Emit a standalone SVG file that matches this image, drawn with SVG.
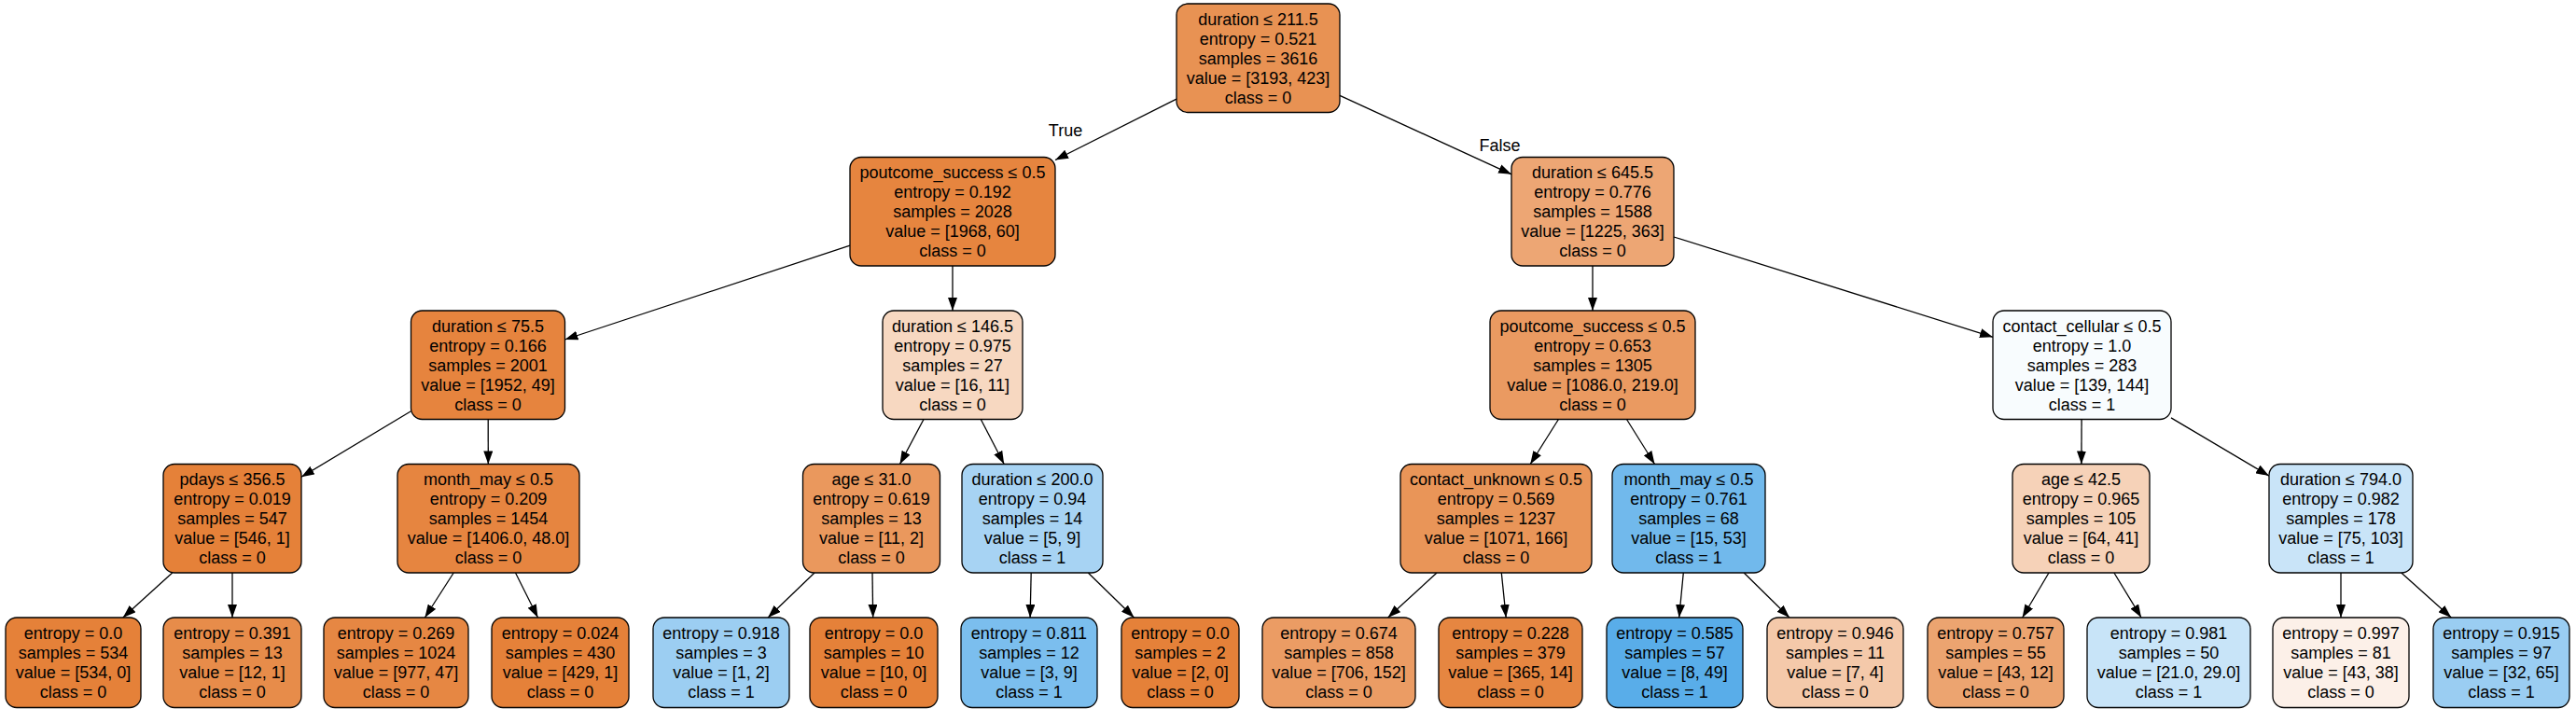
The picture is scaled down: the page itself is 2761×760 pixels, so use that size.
<svg xmlns="http://www.w3.org/2000/svg" width="2761" height="760" viewBox="0 0 2761 760">
<style>
.n rect{stroke:#000;stroke-width:1.3}
text{font-family:"Liberation Sans",Arial,Helvetica,sans-serif;font-size:18px;fill:#000;text-anchor:middle}
.e line{stroke:#000;stroke-width:1.3;marker-end:url(#ah)}
</style>
<defs>
<marker id="ah" markerUnits="userSpaceOnUse" markerWidth="14" markerHeight="10" refX="14" refY="5" orient="auto">
<path d="M0,0 L14,5 L0,10 z" fill="#000"/>
</marker>
</defs>
<rect width="2761" height="760" fill="#fff"/>
<g id="edges" class="e">
<line x1="1261" y1="106.2" x2="1131" y2="171.5"/>
<line x1="1436" y1="102.4" x2="1620" y2="186.8"/>
<line x1="911" y1="263.1" x2="605.5" y2="364"/>
<line x1="1021" y1="285" x2="1021" y2="333"/>
<line x1="1707" y1="285" x2="1707" y2="333"/>
<line x1="1794" y1="254" x2="2136" y2="361.3"/>
<line x1="440.5" y1="440.8" x2="323" y2="511.3"/>
<line x1="523.2" y1="449.5" x2="523.3" y2="497.5"/>
<line x1="990" y1="449.5" x2="964.5" y2="497.5"/>
<line x1="1051.3" y1="449.5" x2="1076.2" y2="497.5"/>
<line x1="1670.4" y1="449.5" x2="1640.2" y2="497.5"/>
<line x1="1743.5" y1="449.5" x2="1773.5" y2="497.5"/>
<line x1="2231.1" y1="449.5" x2="2230.9" y2="497.5"/>
<line x1="2327" y1="447.9" x2="2432" y2="510.1"/>
<line x1="184.7" y1="614" x2="131.8" y2="662"/>
<line x1="249" y1="614" x2="249" y2="662"/>
<line x1="486.2" y1="614" x2="455.4" y2="662"/>
<line x1="552.5" y1="614" x2="576.5" y2="662"/>
<line x1="873" y1="614" x2="823.1" y2="662"/>
<line x1="935" y1="614" x2="935.7" y2="662"/>
<line x1="1105.2" y1="614" x2="1104.1" y2="662"/>
<line x1="1166.3" y1="614" x2="1215.5" y2="662"/>
<line x1="1540" y1="614" x2="1487.6" y2="662"/>
<line x1="1609.3" y1="614" x2="1614.2" y2="662"/>
<line x1="1804.3" y1="614" x2="1799.7" y2="662"/>
<line x1="1869.2" y1="614" x2="1918" y2="662"/>
<line x1="2196" y1="614" x2="2167.6" y2="662"/>
<line x1="2265.9" y1="614" x2="2295.1" y2="662"/>
<line x1="2509" y1="614" x2="2509" y2="662"/>
<line x1="2573.8" y1="614" x2="2627.3" y2="662"/>
<text x="1142" y="146">True</text>
<text x="1607.5" y="162">False</text>
</g>
<g id="node0" class="n"><rect x="1261" y="4" width="175" height="116.5" rx="12" fill="#e89253"/>
<text><tspan x="1348.5" y="26.75">duration ≤ 211.5</tspan><tspan x="1348.5" y="47.75">entropy = 0.521</tspan><tspan x="1348.5" y="68.75">samples = 3616</tspan><tspan x="1348.5" y="89.75">value = [3193, 423]</tspan><tspan x="1348.5" y="110.75">class = 0</tspan></text></g>
<g id="node1" class="n"><rect x="911" y="168.5" width="220" height="116.5" rx="12" fill="#e6853f"/>
<text><tspan x="1021" y="191.25">poutcome_success ≤ 0.5</tspan><tspan x="1021" y="212.25">entropy = 0.192</tspan><tspan x="1021" y="233.25">samples = 2028</tspan><tspan x="1021" y="254.25">value = [1968, 60]</tspan><tspan x="1021" y="275.25">class = 0</tspan></text></g>
<g id="node2" class="n"><rect x="1620" y="168.5" width="174" height="116.5" rx="12" fill="#eda674"/>
<text><tspan x="1707" y="191.25">duration ≤ 645.5</tspan><tspan x="1707" y="212.25">entropy = 0.776</tspan><tspan x="1707" y="233.25">samples = 1588</tspan><tspan x="1707" y="254.25">value = [1225, 363]</tspan><tspan x="1707" y="275.25">class = 0</tspan></text></g>
<g id="node3" class="n"><rect x="440.5" y="333" width="165" height="116.5" rx="12" fill="#e6843e"/>
<text><tspan x="523" y="355.75">duration ≤ 75.5</tspan><tspan x="523" y="376.75">entropy = 0.166</tspan><tspan x="523" y="397.75">samples = 2001</tspan><tspan x="523" y="418.75">value = [1952, 49]</tspan><tspan x="523" y="439.75">class = 0</tspan></text></g>
<g id="node4" class="n"><rect x="946" y="333" width="150" height="116.5" rx="12" fill="#f7d8c1"/>
<text><tspan x="1021" y="355.75">duration ≤ 146.5</tspan><tspan x="1021" y="376.75">entropy = 0.975</tspan><tspan x="1021" y="397.75">samples = 27</tspan><tspan x="1021" y="418.75">value = [16, 11]</tspan><tspan x="1021" y="439.75">class = 0</tspan></text></g>
<g id="node5" class="n"><rect x="1597" y="333" width="220" height="116.5" rx="12" fill="#ea9a61"/>
<text><tspan x="1707" y="355.75">poutcome_success ≤ 0.5</tspan><tspan x="1707" y="376.75">entropy = 0.653</tspan><tspan x="1707" y="397.75">samples = 1305</tspan><tspan x="1707" y="418.75">value = [1086.0, 219.0]</tspan><tspan x="1707" y="439.75">class = 0</tspan></text></g>
<g id="node6" class="n"><rect x="2136" y="333" width="191" height="116.5" rx="12" fill="#f8fcfe"/>
<text><tspan x="2231.5" y="355.75">contact_cellular ≤ 0.5</tspan><tspan x="2231.5" y="376.75">entropy = 1.0</tspan><tspan x="2231.5" y="397.75">samples = 283</tspan><tspan x="2231.5" y="418.75">value = [139, 144]</tspan><tspan x="2231.5" y="439.75">class = 1</tspan></text></g>
<g id="node7" class="n"><rect x="175" y="497.5" width="148" height="116.5" rx="12" fill="#e58139"/>
<text><tspan x="249" y="520.25">pdays ≤ 356.5</tspan><tspan x="249" y="541.25">entropy = 0.019</tspan><tspan x="249" y="562.25">samples = 547</tspan><tspan x="249" y="583.25">value = [546, 1]</tspan><tspan x="249" y="604.25">class = 0</tspan></text></g>
<g id="node8" class="n"><rect x="426" y="497.5" width="195" height="116.5" rx="12" fill="#e68540"/>
<text><tspan x="523.5" y="520.25">month_may ≤ 0.5</tspan><tspan x="523.5" y="541.25">entropy = 0.209</tspan><tspan x="523.5" y="562.25">samples = 1454</tspan><tspan x="523.5" y="583.25">value = [1406.0, 48.0]</tspan><tspan x="523.5" y="604.25">class = 0</tspan></text></g>
<g id="node9" class="n"><rect x="860.5" y="497.5" width="147" height="116.5" rx="12" fill="#ea985d"/>
<text><tspan x="934" y="520.25">age ≤ 31.0</tspan><tspan x="934" y="541.25">entropy = 0.619</tspan><tspan x="934" y="562.25">samples = 13</tspan><tspan x="934" y="583.25">value = [11, 2]</tspan><tspan x="934" y="604.25">class = 0</tspan></text></g>
<g id="node10" class="n"><rect x="1031" y="497.5" width="151" height="116.5" rx="12" fill="#a7d3f3"/>
<text><tspan x="1106.5" y="520.25">duration ≤ 200.0</tspan><tspan x="1106.5" y="541.25">entropy = 0.94</tspan><tspan x="1106.5" y="562.25">samples = 14</tspan><tspan x="1106.5" y="583.25">value = [5, 9]</tspan><tspan x="1106.5" y="604.25">class = 1</tspan></text></g>
<g id="node11" class="n"><rect x="1501" y="497.5" width="205" height="116.5" rx="12" fill="#e99558"/>
<text><tspan x="1603.5" y="520.25">contact_unknown ≤ 0.5</tspan><tspan x="1603.5" y="541.25">entropy = 0.569</tspan><tspan x="1603.5" y="562.25">samples = 1237</tspan><tspan x="1603.5" y="583.25">value = [1071, 166]</tspan><tspan x="1603.5" y="604.25">class = 0</tspan></text></g>
<g id="node12" class="n"><rect x="1728" y="497.5" width="164" height="116.5" rx="12" fill="#71b9ec"/>
<text><tspan x="1810" y="520.25">month_may ≤ 0.5</tspan><tspan x="1810" y="541.25">entropy = 0.761</tspan><tspan x="1810" y="562.25">samples = 68</tspan><tspan x="1810" y="583.25">value = [15, 53]</tspan><tspan x="1810" y="604.25">class = 1</tspan></text></g>
<g id="node13" class="n"><rect x="2157" y="497.5" width="147" height="116.5" rx="12" fill="#f6d2b8"/>
<text><tspan x="2230.5" y="520.25">age ≤ 42.5</tspan><tspan x="2230.5" y="541.25">entropy = 0.965</tspan><tspan x="2230.5" y="562.25">samples = 105</tspan><tspan x="2230.5" y="583.25">value = [64, 41]</tspan><tspan x="2230.5" y="604.25">class = 0</tspan></text></g>
<g id="node14" class="n"><rect x="2432" y="497.5" width="154" height="116.5" rx="12" fill="#c9e4f8"/>
<text><tspan x="2509" y="520.25">duration ≤ 794.0</tspan><tspan x="2509" y="541.25">entropy = 0.982</tspan><tspan x="2509" y="562.25">samples = 178</tspan><tspan x="2509" y="583.25">value = [75, 103]</tspan><tspan x="2509" y="604.25">class = 1</tspan></text></g>
<g id="leaf1" class="n"><rect x="6" y="662" width="145" height="96.5" rx="12" fill="#e58139"/>
<text><tspan x="78.5" y="685.25">entropy = 0.0</tspan><tspan x="78.5" y="706.25">samples = 534</tspan><tspan x="78.5" y="727.25">value = [534, 0]</tspan><tspan x="78.5" y="748.25">class = 0</tspan></text></g>
<g id="leaf2" class="n"><rect x="175" y="662" width="148" height="96.5" rx="12" fill="#e78c4a"/>
<text><tspan x="249" y="685.25">entropy = 0.391</tspan><tspan x="249" y="706.25">samples = 13</tspan><tspan x="249" y="727.25">value = [12, 1]</tspan><tspan x="249" y="748.25">class = 0</tspan></text></g>
<g id="leaf3" class="n"><rect x="347" y="662" width="155" height="96.5" rx="12" fill="#e68743"/>
<text><tspan x="424.5" y="685.25">entropy = 0.269</tspan><tspan x="424.5" y="706.25">samples = 1024</tspan><tspan x="424.5" y="727.25">value = [977, 47]</tspan><tspan x="424.5" y="748.25">class = 0</tspan></text></g>
<g id="leaf4" class="n"><rect x="527" y="662" width="147" height="96.5" rx="12" fill="#e58139"/>
<text><tspan x="600.5" y="685.25">entropy = 0.024</tspan><tspan x="600.5" y="706.25">samples = 430</tspan><tspan x="600.5" y="727.25">value = [429, 1]</tspan><tspan x="600.5" y="748.25">class = 0</tspan></text></g>
<g id="leaf5" class="n"><rect x="700" y="662" width="146" height="96.5" rx="12" fill="#9ccef2"/>
<text><tspan x="773" y="685.25">entropy = 0.918</tspan><tspan x="773" y="706.25">samples = 3</tspan><tspan x="773" y="727.25">value = [1, 2]</tspan><tspan x="773" y="748.25">class = 1</tspan></text></g>
<g id="leaf6" class="n"><rect x="868" y="662" width="137" height="96.5" rx="12" fill="#e58139"/>
<text><tspan x="936.5" y="685.25">entropy = 0.0</tspan><tspan x="936.5" y="706.25">samples = 10</tspan><tspan x="936.5" y="727.25">value = [10, 0]</tspan><tspan x="936.5" y="748.25">class = 0</tspan></text></g>
<g id="leaf7" class="n"><rect x="1030" y="662" width="146" height="96.5" rx="12" fill="#7bbeee"/>
<text><tspan x="1103" y="685.25">entropy = 0.811</tspan><tspan x="1103" y="706.25">samples = 12</tspan><tspan x="1103" y="727.25">value = [3, 9]</tspan><tspan x="1103" y="748.25">class = 1</tspan></text></g>
<g id="leaf8" class="n"><rect x="1202" y="662" width="126" height="96.5" rx="12" fill="#e58139"/>
<text><tspan x="1265" y="685.25">entropy = 0.0</tspan><tspan x="1265" y="706.25">samples = 2</tspan><tspan x="1265" y="727.25">value = [2, 0]</tspan><tspan x="1265" y="748.25">class = 0</tspan></text></g>
<g id="leaf9" class="n"><rect x="1353" y="662" width="164" height="96.5" rx="12" fill="#eb9c64"/>
<text><tspan x="1435" y="685.25">entropy = 0.674</tspan><tspan x="1435" y="706.25">samples = 858</tspan><tspan x="1435" y="727.25">value = [706, 152]</tspan><tspan x="1435" y="748.25">class = 0</tspan></text></g>
<g id="leaf10" class="n"><rect x="1542" y="662" width="154" height="96.5" rx="12" fill="#e68641"/>
<text><tspan x="1619" y="685.25">entropy = 0.228</tspan><tspan x="1619" y="706.25">samples = 379</tspan><tspan x="1619" y="727.25">value = [365, 14]</tspan><tspan x="1619" y="748.25">class = 0</tspan></text></g>
<g id="leaf11" class="n"><rect x="1722" y="662" width="146" height="96.5" rx="12" fill="#59ade9"/>
<text><tspan x="1795" y="685.25">entropy = 0.585</tspan><tspan x="1795" y="706.25">samples = 57</tspan><tspan x="1795" y="727.25">value = [8, 49]</tspan><tspan x="1795" y="748.25">class = 1</tspan></text></g>
<g id="leaf12" class="n"><rect x="1894" y="662" width="146" height="96.5" rx="12" fill="#f4c9aa"/>
<text><tspan x="1967" y="685.25">entropy = 0.946</tspan><tspan x="1967" y="706.25">samples = 11</tspan><tspan x="1967" y="727.25">value = [7, 4]</tspan><tspan x="1967" y="748.25">class = 0</tspan></text></g>
<g id="leaf13" class="n"><rect x="2066" y="662" width="146" height="96.5" rx="12" fill="#eca470"/>
<text><tspan x="2139" y="685.25">entropy = 0.757</tspan><tspan x="2139" y="706.25">samples = 55</tspan><tspan x="2139" y="727.25">value = [43, 12]</tspan><tspan x="2139" y="748.25">class = 0</tspan></text></g>
<g id="leaf14" class="n"><rect x="2237" y="662" width="175" height="96.5" rx="12" fill="#c8e4f8"/>
<text><tspan x="2324.5" y="685.25">entropy = 0.981</tspan><tspan x="2324.5" y="706.25">samples = 50</tspan><tspan x="2324.5" y="727.25">value = [21.0, 29.0]</tspan><tspan x="2324.5" y="748.25">class = 1</tspan></text></g>
<g id="leaf15" class="n"><rect x="2436" y="662" width="146" height="96.5" rx="12" fill="#fcf0e8"/>
<text><tspan x="2509" y="685.25">entropy = 0.997</tspan><tspan x="2509" y="706.25">samples = 81</tspan><tspan x="2509" y="727.25">value = [43, 38]</tspan><tspan x="2509" y="748.25">class = 0</tspan></text></g>
<g id="leaf16" class="n"><rect x="2608" y="662" width="146" height="96.5" rx="12" fill="#9acdf2"/>
<text><tspan x="2681" y="685.25">entropy = 0.915</tspan><tspan x="2681" y="706.25">samples = 97</tspan><tspan x="2681" y="727.25">value = [32, 65]</tspan><tspan x="2681" y="748.25">class = 1</tspan></text></g>
</svg>
